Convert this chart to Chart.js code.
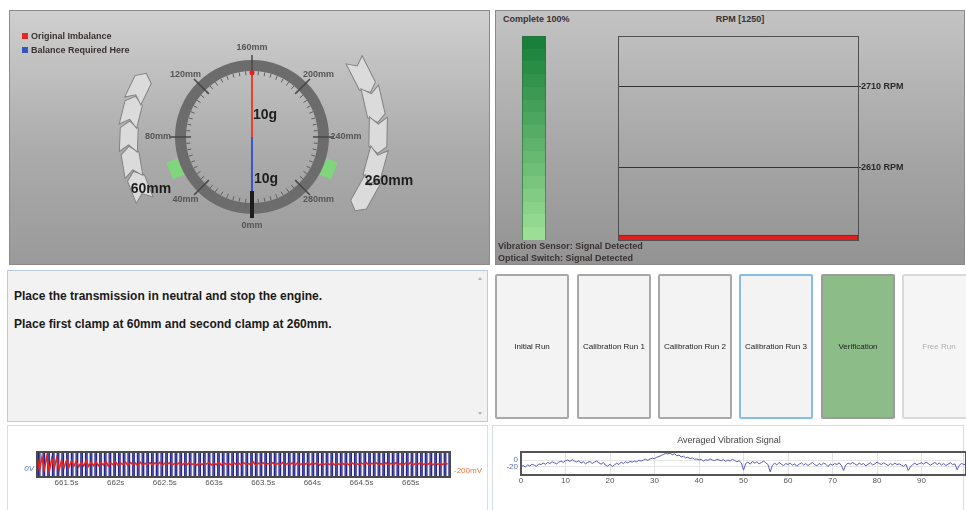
<!DOCTYPE html>
<html>
<head>
<meta charset="utf-8">
<script src="https://cdn.jsdelivr.net/npm/chart.js@4.4.1/dist/chart.umd.min.js"></script>
<style>
html,body{margin:0;padding:0;background:#fff;width:966px;height:510px;overflow:hidden;font-family:"Liberation Sans",Arial,sans-serif;}
.a{position:absolute;}
.panel{position:absolute;box-sizing:border-box;}
.b9{position:absolute;font:bold 9px/11px "Liberation Sans",Arial,sans-serif;color:#3a3232;white-space:nowrap;}
.btn{position:absolute;top:274px;height:145px;width:74px;box-sizing:border-box;border:2px solid #a8a8a8;border-radius:2px;background:#f3f3f3;display:flex;align-items:center;justify-content:center;font:8px "Liberation Sans",Arial,sans-serif;color:#222;white-space:nowrap;}
.msg{position:absolute;left:14px;font:bold 12px/14px "Liberation Sans",Arial,sans-serif;color:#1a1a1a;white-space:nowrap;}
canvas{position:absolute;display:block;}
.sq{position:absolute;width:6px;height:6px;}
</style>
</head>
<body>
<div class="panel" style="left:9px;top:10px;width:481px;height:255px;border:1px solid #8a8a8a;background:linear-gradient(#cfcfcf,#ababab 55%,#9a9a9a);"></div>
<div class="panel" style="left:495px;top:10px;width:470px;height:255px;border:1px solid #8a8a8a;background:linear-gradient(#c3c3c3,#a4a4a4 60%,#939393);"></div>
<div class="panel" style="left:7px;top:270px;width:481px;height:152px;border:1px solid #b9cde0;background:#f2f2f2;"></div>
<div class="panel" style="left:7px;top:425px;width:481px;height:86px;border:1px solid #d6dde6;background:#fff;"></div>
<div class="panel" style="left:492px;top:425px;width:472px;height:86px;border:1px solid #d6dde6;background:#fff;"></div>

<canvas id="gauge" width="479" height="253" style="left:10px;top:11px;width:479px;height:253px;"></canvas>
<div class="sq" style="left:22px;top:33px;background:#e8281e;"></div>
<div class="b9" style="left:31px;top:30.5px;">Original Imbalance</div>
<div class="sq" style="left:22px;top:47px;background:#3555c0;"></div>
<div class="b9" style="left:31px;top:44.5px;">Balance Required Here</div>

<div class="b9" style="left:503px;top:13.5px;">Complete 100%</div>
<div class="b9" style="left:618px;top:13.5px;width:244px;text-align:center;">RPM [1250]</div>
<canvas id="prog" width="26" height="206" style="left:521px;top:35px;width:26px;height:206px;"></canvas>
<canvas id="rpm" width="320" height="216" style="left:600px;top:30px;width:320px;height:216px;"></canvas>
<div class="b9" style="left:498px;top:240.5px;">Vibration Sensor: Signal Detected</div>
<div class="b9" style="left:498px;top:252.5px;">Optical Switch: Signal Detected</div>

<div class="msg" style="top:289px;">Place the transmission in neutral and stop the engine.</div>
<div class="msg" style="top:317px;">Place first clamp at 60mm and second clamp at 260mm.</div>
<div class="a" style="left:478px;top:277px;width:0;height:0;border-left:2.5px solid transparent;border-right:2.5px solid transparent;border-bottom:3px solid #b0b0b0;"></div>
<div class="a" style="left:478px;top:412px;width:0;height:0;border-left:2.5px solid transparent;border-right:2.5px solid transparent;border-top:3px solid #b0b0b0;"></div>

<div class="btn" style="left:495px;">Initial Run</div>
<div class="btn" style="left:577px;">Calibration Run 1</div>
<div class="btn" style="left:658px;">Calibration Run 2</div>
<div class="btn" style="left:739px;border-color:#86bde8;">Calibration Run 3</div>
<div class="btn" style="left:821px;background:#8cbc88;border-color:#9c9c9c;">Verification</div>
<div class="btn" style="left:902px;border-color:#dadada;color:#b0b0b0;background:#f5f5f5;">Free Run</div>

<canvas id="sig" width="481" height="84" style="left:7px;top:426px;width:481px;height:84px;"></canvas>
<canvas id="avg" width="474" height="84" style="left:492px;top:426px;width:474px;height:84px;"></canvas>

<script>
// ---------------- data ----------------
const gaugeLabels = ['0mm','40mm','80mm','120mm','160mm','200mm','240mm','280mm'];
const gaugeSpanMm = 320;
const imbalanceGrams = [0,0,0,0,10,0,0,0];
const balanceGrams   = [10,0,0,0,0,0,0,0];
const clampPositionsMm = [60, 260];
const clampLabels = ['60mm','260mm'];
const weightLabels = ['10g','10g'];

const progressPercent = [100];

const rpmLineValues = [2610, 2710];
const rpmBarValue = [2526];

const timeTicks = [661.5, 662, 662.5, 663, 663.5, 664, 664.5, 665];
const redT0 = 661.2, redDt = 0.025;
const redValues = [
 -50,-195,-65,-180,-55,-200,-75,-170,-70,-185,-90,-165,
 -95,-160,-100,-150,-105,-158,-110,-148,-98,-152,-112,-145,
 -108,-146,-115,-140,-104,-150,-118,-138,-110,-144,-120,-136,
 -112,-142,-116,-135,-121,-147,-113,-139,-124,-133,-117,-141,
 -119,-136,-114,-144,-122,-131,-118,-138,-125,-134,-115,-140,
 -121,-137,-117,-133,-126,-142,-119,-135,-123,-130,-116,-139,
 -124,-135,-112,-141,-120,-132,-127,-138,-118,-134,-122,-140,
 -117,-131,-125,-137,-110,-143,-121,-133,-119,-136,-126,-130,
 -118,-139,-123,-134,-116,-138,-124,-131,-120,-142,-115,-135,
 -125,-133,-119,-137,-122,-130,-117,-140,-124,-134,-121,-136,
 -116,-138,-126,-132,-120,-135,-123,-139,-118,-131,-125,-137,
 -121,-134,-117,-140,-124,-130,-119,-136,-127,-133,-120,-138,
 -123,-135,-118,-132,-126,-139,-121,-133,-116,-137,-124,-131,
 -120,-136,-125,-134,-118,-138,-122,-132,-127,-135,-119,-133
];
const pulseTimes = [
 661.214,661.262,661.310,661.358,661.406,661.454,661.502,661.550,661.598,661.646,
 661.694,661.742,661.790,661.838,661.886,661.934,661.982,662.030,662.078,662.126,
 662.174,662.222,662.270,662.318,662.366,662.414,662.462,662.510,662.558,662.606,
 662.654,662.702,662.750,662.798,662.846,662.894,662.942,662.990,663.038,663.086,
 663.134,663.182,663.230,663.278,663.326,663.374,663.422,663.470,663.518,663.566,
 663.614,663.662,663.710,663.758,663.806,663.854,663.902,663.950,663.998,664.046,
 664.094,664.142,664.190,664.238,664.286,664.334,664.382,664.430,664.478,664.526,
 664.574,664.622,664.670,664.718,664.766,664.814,664.862,664.910,664.958,665.006,
 665.054,665.102,665.150,665.198,665.246,665.294,665.342,665.390
];
const pulseWidth = 0.015;
const pulseLow = -2.4, pulseHigh = 5;

const avgDx = 0.5;
const avgValues = [
 -19,-16,-20,-14,-17,-12,-15,-18,-11,-13,
 -9,-12,-7,-10,-5,-8,-11,-6,-3,-7,
 -2,0,-4,1,-3,-6,-2,-9,-5,-11,
 -7,-4,-10,-6,-3,-8,-12,-7,-15,-18,
 -12,-19,-14,-9,-13,-6,-10,-5,-8,-4,
 -6,-3,-5,-1,-3,0,2,-1,3,5,
 4,8,10,13,16,19,17,20,15,18,
 12,14,9,11,6,8,4,6,2,3,
 0,2,-3,1,-1,3,0,-2,2,0,
 -2,1,-4,0,-3,2,-1,-5,-2,-8,
 -29,-10,-6,-12,-4,-9,-5,-11,-7,-3,
 -8,-13,-34,-15,-9,-14,-7,-12,-16,-10,
 -13,-9,-15,-11,-18,-12,-8,-14,-10,-16,
 -11,-7,-13,-17,-10,-14,-9,-12,-19,-11,
 -15,-10,-13,-8,-16,-30,-14,-9,-12,-7,
 -11,-15,-9,-13,-10,-17,-12,-8,-14,-11,
 -6,-10,-13,-8,-12,-16,-10,-14,-9,-13,
 -11,-15,-18,-12,-30,-20,-13,-9,-14,-10,
 -8,-12,-6,-10,-15,-11,-7,-13,-9,-14,
 -10,-16,-12,-8,-13,-11,-28,-15,-10,-13,
 -12
];
const avgXTickLabels = [0,10,20,30,40,50,60,70,80,90];

// ---------------- setup ----------------
Chart.defaults.font.family = '"Liberation Sans", Arial, sans-serif';
Chart.defaults.animation = false;
const FONT = '"Liberation Sans", Arial, sans-serif';

const framePlugin = {
  id: 'frame',
  beforeDraw(chart, args, o) {
    if (!o || !o.fill) return;
    const a = chart.chartArea, c = chart.ctx;
    c.save(); c.fillStyle = o.fill;
    c.fillRect(a.left, a.top, a.right - a.left, a.bottom - a.top);
    c.restore();
  },
  afterDraw(chart, args, o) {
    if (!o || !o.color) return;
    const a = chart.chartArea, c = chart.ctx, w = o.width || 1;
    const off = (w % 2) ? 0.5 : 0;
    c.save(); c.strokeStyle = o.color; c.lineWidth = w;
    c.strokeRect(Math.round(a.left) + off, Math.round(a.top) + off,
                 Math.round(a.right - a.left), Math.round(a.bottom - a.top));
    c.restore();
  }
};

function drawChevron(ctx, x, y, rot, s, w, n) {
  ctx.save(); ctx.translate(x, y); ctx.rotate(rot);
  ctx.beginPath();
  ctx.moveTo(-s/2 - n, -w/2);
  ctx.lineTo(s/2 - n - 1.5, -w/2);
  ctx.lineTo(s/2 - 1.5, 0);
  ctx.lineTo(s/2 - n - 1.5, w/2);
  ctx.lineTo(-s/2 - n, w/2);
  ctx.lineTo(-s/2, 0);
  ctx.closePath();
  ctx.fillStyle = '#dbdbdb'; ctx.fill();
  ctx.strokeStyle = '#838383'; ctx.lineWidth = 1; ctx.stroke();
  ctx.restore();
}

const gaugePlugin = {
  id: 'gaugeDeco',
  beforeDatasetsDraw(chart) {
    const s = chart.scales.r, ctx = chart.ctx;
    const cx = s.xCenter, cy = s.yCenter, R = s.drawingArea;
    const ang = mm => s.getIndexAngle(0) + mm / gaugeSpanMm * 2 * Math.PI - Math.PI / 2;
    const pt = (mm, r) => { const a = ang(mm); return [cx + Math.cos(a) * r, cy + Math.sin(a) * r]; };
    ctx.save();
    // rotation direction arrows
    [[61, 103, 123, 5], [216, 266, 126, 5]].forEach(([m0, m1, r, n]) => {
      const step = (m1 - m0) / (n - 1);
      const len = step / gaugeSpanMm * 2 * Math.PI * r;
      for (let i = 0; i < n; i++) {
        const mm = m0 + i * step; const p = pt(mm, r);
        drawChevron(ctx, p[0], p[1], ang(mm) + Math.PI / 2, len, 18, 7);
      }
    });
    // clamp markers
    clampPositionsMm.forEach(mm => {
      const p = pt(mm, R + 6);
      ctx.save(); ctx.translate(p[0], p[1]); ctx.rotate(ang(mm) + Math.PI / 2);
      ctx.fillStyle = '#7fd67b'; ctx.fillRect(-9, -6, 18, 12);
      ctx.restore();
    });
    // ring
    ctx.beginPath(); ctx.arc(cx, cy, R - 5.5, 0, 2 * Math.PI);
    ctx.lineWidth = 11; ctx.strokeStyle = '#6c6c6c'; ctx.stroke();
    // minor ticks
    ctx.strokeStyle = '#5e5e5e'; ctx.lineWidth = 1;
    for (let mm = 0; mm < gaugeSpanMm; mm += 5) {
      if (mm % 40 === 0) continue;
      const p0 = pt(mm, R - 11), p1 = pt(mm, R - 15);
      ctx.beginPath(); ctx.moveTo(p0[0], p0[1]); ctx.lineTo(p1[0], p1[1]); ctx.stroke();
    }
    // major ticks + labels
    ctx.strokeStyle = '#474747'; ctx.lineWidth = 1.5;
    ctx.font = 'bold 9px ' + FONT; ctx.fillStyle = '#555'; ctx.textAlign = 'center'; ctx.textBaseline = 'middle';
    gaugeLabels.forEach((lab, i) => {
      const mm = i * gaugeSpanMm / gaugeLabels.length;
      if (i > 0) {
        const p0 = pt(mm, R - 16), p1 = pt(mm, R + 5);
        ctx.beginPath(); ctx.moveTo(p0[0], p0[1]); ctx.lineTo(p1[0], p1[1]); ctx.stroke();
      }
      const a = ang(mm);
      ctx.fillText(lab, cx + Math.cos(a) * (R + 17), cy + Math.sin(a) * (R + 12));
    });
    ctx.restore();
  },
  afterDatasetsDraw(chart) {
    const s = chart.scales.r, ctx = chart.ctx;
    const cx = s.xCenter, cy = s.yCenter, R = s.drawingArea;
    ctx.save();
    const p0 = s.getPointPosition(0, R - 23), p1 = s.getPointPosition(0, R + 4);
    ctx.strokeStyle = '#1c1c1c'; ctx.lineWidth = 4;
    ctx.beginPath(); ctx.moveTo(p0.x, p0.y); ctx.lineTo(p1.x, p1.y); ctx.stroke();
    ctx.fillStyle = '#1e1e1e'; ctx.font = 'bold 14px ' + FONT; ctx.textBaseline = 'middle';
    ctx.textAlign = 'left';
    ctx.fillText(weightLabels[0], cx + 1, cy - 22);
    ctx.fillText(weightLabels[1], cx + 2, cy + 42);
    ctx.textAlign = 'center';
    ctx.fillText(clampLabels[0], cx - 101, cy + 52);
    ctx.fillText(clampLabels[1], cx + 137, cy + 44);
    ctx.restore();
  }
};

// ---------------- gauge ----------------
new Chart(document.getElementById('gauge'), {
  type: 'radar',
  data: {
    labels: gaugeLabels,
    datasets: [
      { label: 'Original Imbalance', data: imbalanceGrams, borderColor: '#e8432a', backgroundColor: '#e8432a',
        borderWidth: 2, fill: false, tension: 0,
        pointRadius: c => c.raw > 0 ? 2.5 : 0, pointBorderWidth: 0, pointBackgroundColor: '#e02020' },
      { label: 'Balance Required Here', data: balanceGrams, borderColor: '#3658cc', backgroundColor: '#3658cc',
        borderWidth: 2, fill: false, tension: 0, pointRadius: 0 }
    ]
  },
  options: {
    responsive: false, animation: false,
    layout: { padding: { left: 165, right: 160, top: 49, bottom: 50 } },
    plugins: { legend: { display: false }, tooltip: { enabled: false } },
    scales: { r: { min: 0, max: 12, startAngle: 180,
      ticks: { display: false }, grid: { display: false }, angleLines: { display: false },
      pointLabels: { display: false } } }
  },
  plugins: [gaugePlugin]
});

// ---------------- progress ----------------
function bandGrad(ctx, a) {
  const g = ctx.createLinearGradient(0, a.top, 0, a.bottom);
  const n = 16, c0 = [24, 128, 58], c1 = [156, 222, 150];
  for (let i = 0; i < n; i++) {
    const t = i / (n - 1);
    const col = 'rgb(' + c0.map((v, k) => Math.round(v + (c1[k] - v) * t)).join(',') + ')';
    g.addColorStop(i / n, col); g.addColorStop(Math.min(1, (i + 1) / n - 0.0005), col);
  }
  return g;
}
new Chart(document.getElementById('prog'), {
  type: 'bar',
  data: { labels: ['Complete'], datasets: [{ data: progressPercent,
    backgroundColor: c => c.chart.chartArea ? bandGrad(c.chart.ctx, c.chart.chartArea) : '#4a4',
    borderColor: '#2d6e3a', borderWidth: 1, categoryPercentage: 1, barPercentage: 1 }] },
  options: { responsive: false, animation: false, layout: { padding: 1 },
    plugins: { legend: { display: false }, tooltip: { enabled: false } },
    scales: { x: { display: false }, y: { display: false, min: 0, max: 100 } } }
});

// ---------------- rpm ----------------
new Chart(document.getElementById('rpm'), {
  type: 'bar',
  data: { labels: ['RPM'], datasets: [{ data: rpmBarValue, backgroundColor: '#e21d1d', borderColor: '#a81212',
    borderWidth: 1, categoryPercentage: 1, barPercentage: 1 }] },
  options: { responsive: false, animation: false,
    layout: { padding: { left: 18, top: 6, bottom: 6, right: 0 } },
    plugins: { legend: { display: false }, tooltip: { enabled: false }, frame: { color: '#505050', width: 1 } },
    scales: {
      x: { display: false },
      y: { position: 'right', min: 2520, max: 2772,
        afterBuildTicks: s => { s.ticks = rpmLineValues.map(v => ({ value: v })); },
        afterFit: s => { s.width = 62; },
        ticks: { callback: v => v + ' RPM', font: { size: 9, weight: 'bold' }, color: '#2a2a2a', padding: 0 },
        grid: { color: '#333', lineWidth: 1, tickLength: 3 },
        border: { display: true, color: '#505050' } }
    } },
  plugins: [framePlugin]
});

// ---------------- time signal ----------------
const redPts = redValues.map((v, i) => ({ x: redT0 + i * redDt, y: v }));
const bluePts = [];
pulseTimes.forEach(t => {
  bluePts.push({ x: t, y: pulseLow }, { x: t, y: pulseHigh }, { x: t + pulseWidth, y: pulseHigh }, { x: t + pulseWidth, y: pulseLow });
});
new Chart(document.getElementById('sig'), {
  type: 'line',
  data: { datasets: [
    { label: 'Vibration', data: redPts, yAxisID: 'yR', borderColor: '#e8231e', borderWidth: 1.6, pointRadius: 0, tension: 0 },
    { label: 'Optical', data: bluePts, yAxisID: 'yL', borderColor: '#26268a', borderWidth: 1.3, pointRadius: 0, tension: 0 }
  ] },
  options: { responsive: false, animation: false,
    layout: { padding: { top: 26, left: 0, right: 0, bottom: 0 } },
    plugins: { legend: { display: false }, tooltip: { enabled: false }, frame: { color: '#4a4a4a', width: 2, fill: '#f2f2fb' } },
    scales: {
      x: { type: 'linear', min: 661.2, max: 665.4,
        afterBuildTicks: s => { s.ticks = timeTicks.map(v => ({ value: v })); },
        afterFit: s => { s.height = 33; },
        ticks: { callback: v => v + 's', font: { size: 8 }, color: '#555', padding: 1, maxRotation: 0, autoSkip: false },
        grid: { display: false, drawTicks: false }, border: { display: false } },
      yL: { position: 'left', min: pulseLow, max: pulseHigh,
        afterBuildTicks: s => { s.ticks = [{ value: 0 }]; },
        afterFit: s => { s.width = 30; },
        ticks: { callback: v => v + 'V', font: { size: 8, style: 'italic' }, color: '#5577bb', padding: 3 },
        grid: { display: false, drawTicks: false }, border: { display: false } },
      yR: { position: 'right', min: -260, max: -10,
        afterBuildTicks: s => { s.ticks = [{ value: -200 }]; },
        afterFit: s => { s.width = 38; },
        ticks: { callback: v => v + 'mV', font: { size: 8 }, color: '#e8763a', padding: 4 },
        grid: { display: false, drawTicks: false }, border: { display: false } }
    } },
  plugins: [framePlugin]
});

// ---------------- averaged ----------------
new Chart(document.getElementById('avg'), {
  type: 'line',
  data: { datasets: [{ label: 'Averaged Vibration Signal', data: avgValues.map((v, i) => ({ x: i * avgDx, y: v })),
    borderColor: '#5b5bb8', borderWidth: 1, pointRadius: 0, tension: 0 }] },
  options: { responsive: false, animation: false,
    layout: { padding: 0 },
    plugins: { legend: { display: false }, tooltip: { enabled: false },
      title: { display: true, text: 'Averaged Vibration Signal', color: '#444', font: { size: 9, weight: 'normal', lineHeight: 1 }, padding: { top: 10, bottom: 7 } },
      frame: { color: '#555', width: 2 } },
    scales: {
      x: { type: 'linear', min: 0, max: 100,
        afterBuildTicks: s => { s.ticks = avgXTickLabels.map(v => ({ value: v })); },
        afterFit: s => { s.height = 35; },
        ticks: { font: { size: 8 }, color: '#555', padding: 1, maxRotation: 0, autoSkip: false },
        grid: { color: '#e2e2e2', drawTicks: false }, border: { display: false } },
      y: { min: -43, max: 23,
        afterBuildTicks: s => { s.ticks = [{ value: -20 }, { value: 0 }]; },
        afterFit: s => { s.width = 29; },
        ticks: { font: { size: 8 }, color: '#5a6ab0', padding: 3 },
        grid: { color: '#e6e6e6', drawTicks: false }, border: { display: false } }
    } },
  plugins: [framePlugin]
});
</script>
</body>
</html>
